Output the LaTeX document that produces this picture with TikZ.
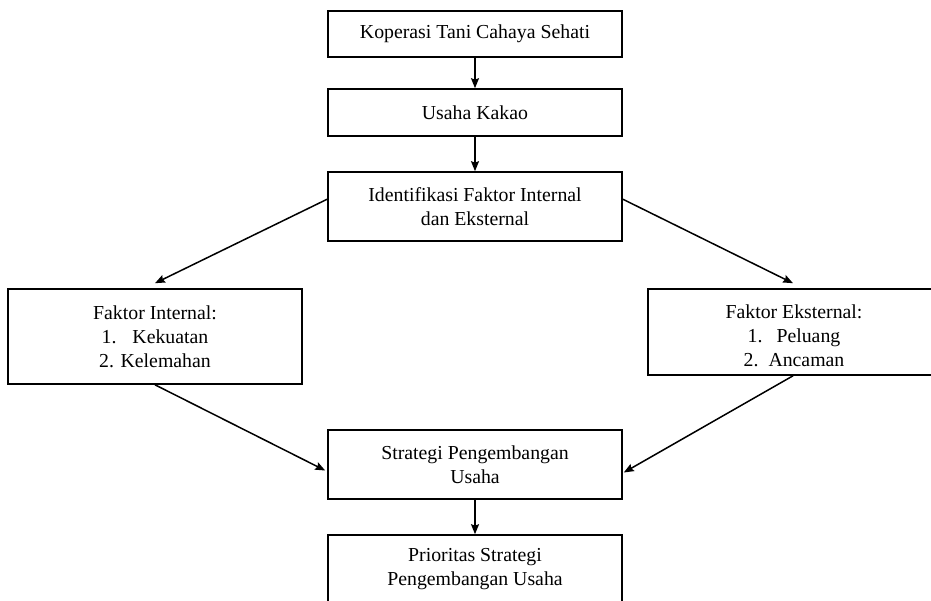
\documentclass[tikz,border=0pt]{standalone}
\usepackage{fontspec}
\setmainfont{Liberation Serif}
\usetikzlibrary{arrows.meta}
\begin{document}
\begin{tikzpicture}[x=1pt,y=-1pt,
  box/.style={draw=black,line width=1.6pt,minimum width=294pt,align=center,inner sep=0pt,
    font=\fontsize{19.8}{24}\selectfont},
  conn/.style={line width=1.5pt,-{Stealth[length=10pt,width=8pt,inset=1.5pt]}}]
\useasboundingbox (0,0) rectangle (931,601);
\clip (0,0) rectangle (931,601);
\fill[white] (0,0) rectangle (931,601);
\node[box,minimum height=46pt] (b1) at (475,34) {Koperasi Tani Cahaya Sehati};
\node[box,minimum height=47pt] (b2) at (475,112.5) {Usaha Kakao};
\node[box,minimum height=69pt] (b3) at (475,206.5) {Identifikasi Faktor Internal\\dan Eksternal};
\node[box,minimum height=95pt] (fi) at (155,336.5) {Faktor Internal:\\1.\hspace{16pt}Kekuatan\\2. Kelemahan};
\node[box,minimum width=292pt,minimum height=86pt] (fe) at (794,332) {\rule{0pt}{21.5pt}Faktor Eksternal:\\1.\hspace{14pt}Peluang\\2.\hspace{10pt}Ancaman};
\node[box,minimum height=69pt] (sp) at (475,464.5) {Strategi Pengembangan\\Usaha};
\node[box,minimum height=69pt] (pr) at (475,569.5) {Prioritas Strategi\\Pengembangan Usaha};
\draw[conn] (b1.south) -- (b2.north);
\draw[conn] (b2.south) -- (b3.north);
\draw[conn] ([yshift=-28pt]b3.north west) -- ([yshift=5pt]fi.north);
\draw[conn] ([yshift=-28pt]b3.north east) -- ([xshift=-1pt,yshift=5pt]fe.north);
\draw[conn] (fi.south) -- ([xshift=-2pt,yshift=-6pt]sp.west);
\draw[conn] ([xshift=-1pt]fe.south) -- ([xshift=1pt,yshift=-8pt]sp.east);
\draw[conn] (sp.south) -- (pr.north);
\end{tikzpicture}
\end{document}
